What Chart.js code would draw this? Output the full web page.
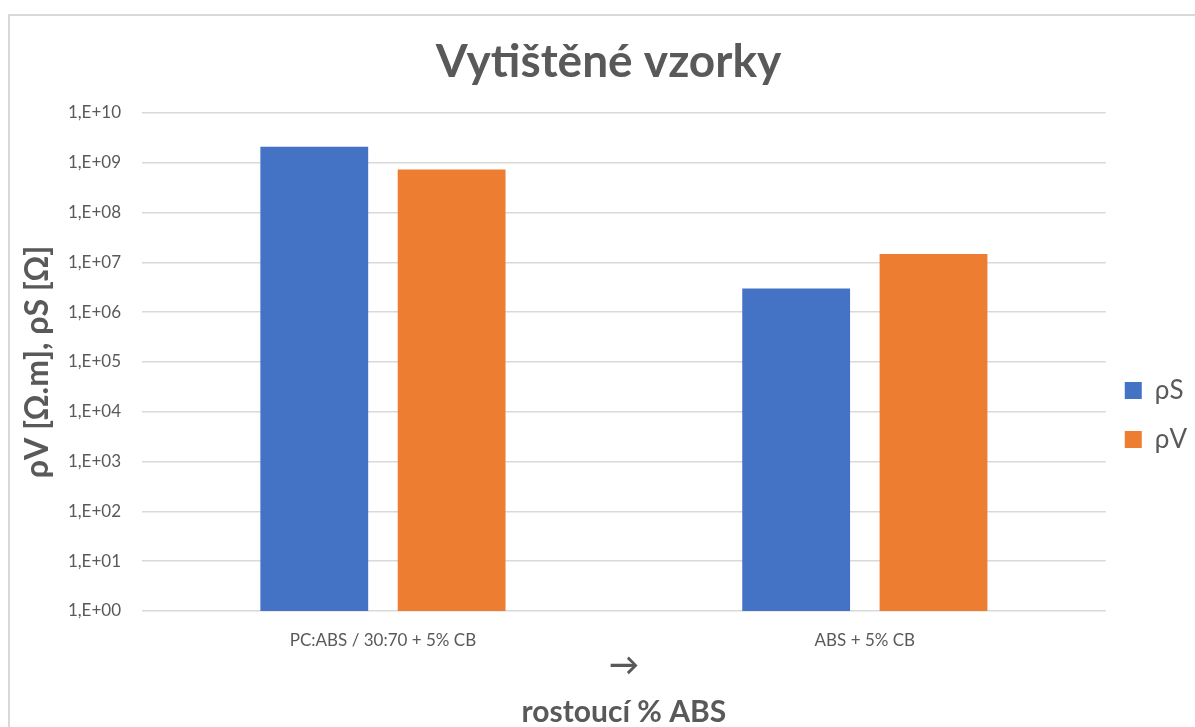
<!DOCTYPE html>
<html>
<head>
<meta charset="utf-8">
<script src="https://cdn.jsdelivr.net/npm/chart.js@4"></script>
<style>
  body { margin: 0; background: #fff; overflow: hidden; }
  #frame {
    position: absolute; left: 8px; top: 14px;
    width: 1200px; height: 760px;
    border-left: 2px solid #d9d9d9; border-top: 2px solid #d9d9d9;
  }
  #chartBox { position: relative; width: 1200px; height: 740px; }
</style>
</head>
<body>
<div id="frame"><div id="chartBox"><canvas id="chart"></canvas></div></div>
<script>
// ========================================
// DATA
// ========================================
const categories = ["PC:ABS / 30:70 + 5% CB", "ABS + 5% CB"];
const rhoS = [2.1e9, 3.0e6];
const rhoV = [7.3e8, 1.48e7];
const yTickValues = [1e0, 1e1, 1e2, 1e3, 1e4, 1e5, 1e6, 1e7, 1e8, 1e9, 1e10];
const yTickLabels = ["1,E+00", "1,E+01", "1,E+02", "1,E+03", "1,E+04", "1,E+05",
  "1,E+06", "1,E+07", "1,E+08", "1,E+09", "1,E+10"];

const textGray = "#595959";
const gridGray = "#d9d9d9";
const fontFamily = "Lato, 'Open Sans', sans-serif";

// ========================================
// CHART
// ========================================
new Chart(document.getElementById("chart"), {
  type: "bar",
  data: {
    labels: categories,
    datasets: [
      {
        label: "ρS",
        data: rhoS,
        backgroundColor: "#4472c4",
        categoryPercentage: 0.57,
        barPercentage: 0.785,
      },
      {
        label: "ρV",
        data: rhoV,
        backgroundColor: "#ed7d31",
        categoryPercentage: 0.57,
        barPercentage: 0.785,
      },
    ],
  },
  options: {
    responsive: true,
    maintainAspectRatio: false,
    animation: false,
    layout: { padding: { top: 20, left: 10, right: 13, bottom: 19 } },
    plugins: {
      tooltip: { enabled: false },
      title: {
        display: true,
        text: "Vytištěné vzorky",
        color: textGray,
        font: { family: fontFamily, size: 46, weight: "bold", lineHeight: 1.2 },
        padding: { top: -1.6, bottom: 23.4 },
      },
      legend: {
        position: "right",
        title: {
          display: true,
          text: " ",
          font: { size: 4, lineHeight: 1 },
          padding: 28.5,
        },
        labels: {
          color: textGray,
          boxWidth: 17,
          boxHeight: 17,
          padding: 19,
          font: { family: fontFamily, size: 26, lineHeight: 30 / 26 },
          // array text lets the font line height set the row spacing
          generateLabels: (chart) =>
            Chart.defaults.plugins.legend.labels
              .generateLabels(chart)
              .map((item) => ({ ...item, text: [item.text] })),
        },
      },
    },
    scales: {
      x: {
        grid: { display: false, drawTicks: false },
        border: { display: false },
        ticks: {
          color: textGray,
          padding: 19,
          font: { family: fontFamily, size: 17 },
        },
        title: {
          display: true,
          text: ["→", "rostoucí % ABS"],
          color: textGray,
          font: { family: fontFamily, size: 30, weight: "bold", lineHeight: 47 / 30 },
          padding: { top: 0, bottom: 1.5 },
        },
        afterFit: (scale) => {
          scale.height = 126;
        },
      },
      y: {
        type: "logarithmic",
        min: 1,
        max: 1e10,
        grid: { color: gridGray, lineWidth: 1.5, drawTicks: false },
        border: { display: false },
        afterBuildTicks: (scale) => {
          scale.ticks = yTickValues.map((v) => ({ value: v }));
        },
        ticks: {
          color: textGray,
          padding: 21,
          font: { family: fontFamily, size: 17 },
          callback: (value) => yTickLabels[yTickValues.indexOf(value)] ?? "",
        },
        title: {
          display: true,
          text: "ρV [Ω.m], ρS [Ω]",
          color: textGray,
          font: { family: fontFamily, size: 32, weight: "bold", lineHeight: 1.2 },
          padding: { top: -1.2, bottom: 0 },
        },
        afterFit: (scale) => {
          scale.width = 122;
        },
      },
    },
  },
});
</script>
</body>
</html>
